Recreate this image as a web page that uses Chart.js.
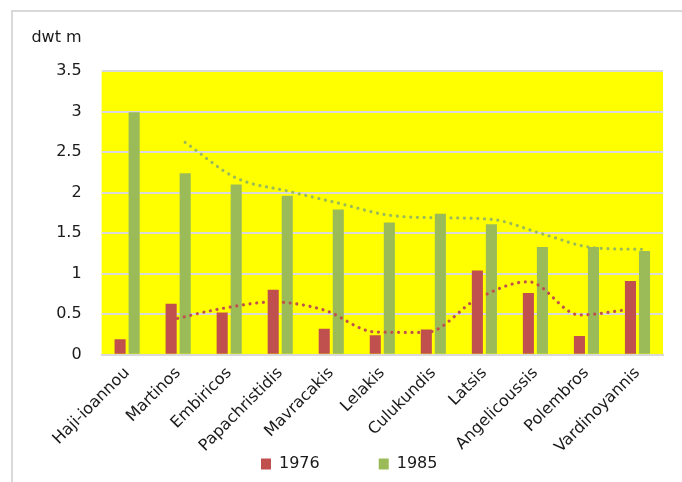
<!DOCTYPE html>
<html>
<head>
<meta charset="utf-8">
<script src="https://cdn.jsdelivr.net/npm/chart.js@4"></script>
<style>
  html, body { margin: 0; padding: 0; background: #ffffff; }
  #wrap { position: relative; width: 682px; height: 482px; overflow: hidden; }
  #frame { position: absolute; left: 11px; top: 10px; right: 0; bottom: 0;
           border-left: 2px solid #d9d9d9; border-top: 2px solid #d9d9d9; }
  canvas { position: absolute; left: 0; top: 0; }
</style>
</head>
<body>
<div id="wrap">
  <div id="frame"></div>
  <canvas id="c" width="682" height="482"></canvas>
</div>
<script>
// Shipowning families: fleet size in million dwt
const owners = ['Haji-ioannou', 'Martinos', 'Embiricos', 'Papachristidis', 'Mavracakis',
                'Lelakis', 'Culukundis', 'Latsis', 'Angelicoussis', 'Polembros', 'Vardinoyannis'];
const dwt1976 = [0.19, 0.63, 0.52, 0.80, 0.32, 0.24, 0.31, 1.04, 0.76, 0.23, 0.91];
const dwt1985 = [2.99, 2.24, 2.10, 1.96, 1.79, 1.63, 1.74, 1.61, 1.33, 1.33, 1.28];
// two-period moving-average trend lines (start at the second owner)
const trend1976 = [null, 0.43, 0.57, 0.65, 0.55, 0.28, 0.275, 0.69, 0.90, 0.49, 0.56];
const trend1985 = [null, 2.62, 2.18, 2.02, 1.87, 1.72, 1.69, 1.67, 1.49, 1.32, 1.30];
const yTicks = [0, 0.5, 1, 1.5, 2, 2.5, 3, 3.5];
const seriesLabels = ['1976', '1985'];

const RED = '#c0504d';
const GREEN = '#9bbb59';
const INK = '#1a1a1a';
const CAT_PCT = 0.55;
const BAR_PCT = 0.79;
const FONT = '"DejaVu Sans", sans-serif';

// each trend line sits over the centre of its own series' bars
const barShift = CAT_PCT / 4;
const trendShift = { trend1976: -barShift, trend1985: barShift };

const plotBackground = {
  id: 'plotBackground',
  beforeDraw(chart) {
    const a = chart.chartArea, ctx = chart.ctx;
    ctx.save();
    ctx.fillStyle = '#ffff00';
    ctx.fillRect(a.left, a.top, a.right - a.left, a.bottom - a.top);
    ctx.restore();
  }
};

const shiftTrendLines = {
  id: 'shiftTrendLines',
  afterDatasetsUpdate(chart) {
    const x = chart.scales.x;
    const step = x.getPixelForValue(1) - x.getPixelForValue(0);
    chart.data.datasets.forEach((ds, i) => {
      const s = trendShift[ds.label];
      if (s === undefined) return;
      const meta = chart.getDatasetMeta(i);
      meta.data.forEach(pt => { pt.x += s * step; });
      if (meta.dataset) meta.dataset._pointsUpdated = false;
    });
  }
};

const unitLabel = {
  id: 'unitLabel',
  afterDraw(chart) {
    const y = chart.scales.y, ctx = chart.ctx;
    ctx.save();
    ctx.font = '16px ' + FONT;
    ctx.fillStyle = INK;
    ctx.textAlign = 'right';
    ctx.textBaseline = 'middle';
    ctx.fillText('dwt m', y.right - 20, chart.chartArea.top - 33);
    ctx.restore();
  }
};

// wider gaps between legend entries without making the legend taller;
// long owner names may run past the axis box, so let them
const legendPlacement = {
  id: 'legendPlacement',
  afterLayout(chart) {
    const lg = chart.legend;
    const fitPad = lg.options.labels.padding;
    const gap = 59;
    lg.options.labels.padding = gap;
    lg.top -= gap - fitPad;
    lg.left = 261 - gap;
    lg.right = 682;
    chart.scales.x.bottom = chart.height;
  }
};

new Chart(document.getElementById('c'), {
  type: 'bar',
  data: {
    labels: owners,
    datasets: [
      { label: seriesLabels[0], data: dwt1976, backgroundColor: RED,
        categoryPercentage: CAT_PCT, barPercentage: BAR_PCT, order: 2 },
      { label: seriesLabels[1], data: dwt1985, backgroundColor: GREEN,
        categoryPercentage: CAT_PCT, barPercentage: BAR_PCT, order: 2 },
      { type: 'line', label: 'trend1976', data: trend1976, grouped: false,
        borderColor: RED, borderWidth: 3.2, borderDash: [0.01, 6.7],
        borderCapStyle: 'round', pointRadius: 0, cubicInterpolationMode: 'monotone',
        fill: false, order: 1 },
      { type: 'line', label: 'trend1985', data: trend1985, grouped: false,
        borderColor: GREEN, borderWidth: 3.2, borderDash: [0.01, 6.7],
        borderCapStyle: 'round', pointRadius: 0, cubicInterpolationMode: 'monotone',
        fill: false, order: 1 }
    ]
  },
  options: {
    responsive: false,
    animation: false,
    layout: { padding: { left: 0, right: 19, top: 71, bottom: 0 } },
    plugins: {
      legend: {
        position: 'bottom',
        align: 'start',
        labels: {
          filter: item => seriesLabels.includes(item.text),
          boxWidth: 10, boxHeight: 11, padding: 9,
          color: INK, font: { family: FONT, size: 16 }
        }
      },
      tooltip: { enabled: false },
      title: { display: false }
    },
    scales: {
      x: {
        grid: { display: false, drawTicks: false },
        border: { display: true, color: '#d9d9d9', width: 2 },
        ticks: { minRotation: 45, maxRotation: 45, autoSkip: false, padding: 9,
                 color: INK, font: { family: FONT, size: 16 } },
        afterFit(s) { s.height = 92.3; }
      },
      y: {
        min: 0, max: 3.5,
        afterBuildTicks(s) { s.ticks = yTicks.map(v => ({ value: v })); },
        grid: { color: '#d9d9d9', lineWidth: 2, drawTicks: false },
        border: { display: false },
        ticks: { padding: 20, color: INK, font: { family: FONT, size: 16 },
                 callback: v => String(v) },
        afterFit(s) { s.width = 101.6; }
      }
    }
  },
  plugins: [plotBackground, shiftTrendLines, unitLabel, legendPlacement]
});
</script>
</body>
</html>
